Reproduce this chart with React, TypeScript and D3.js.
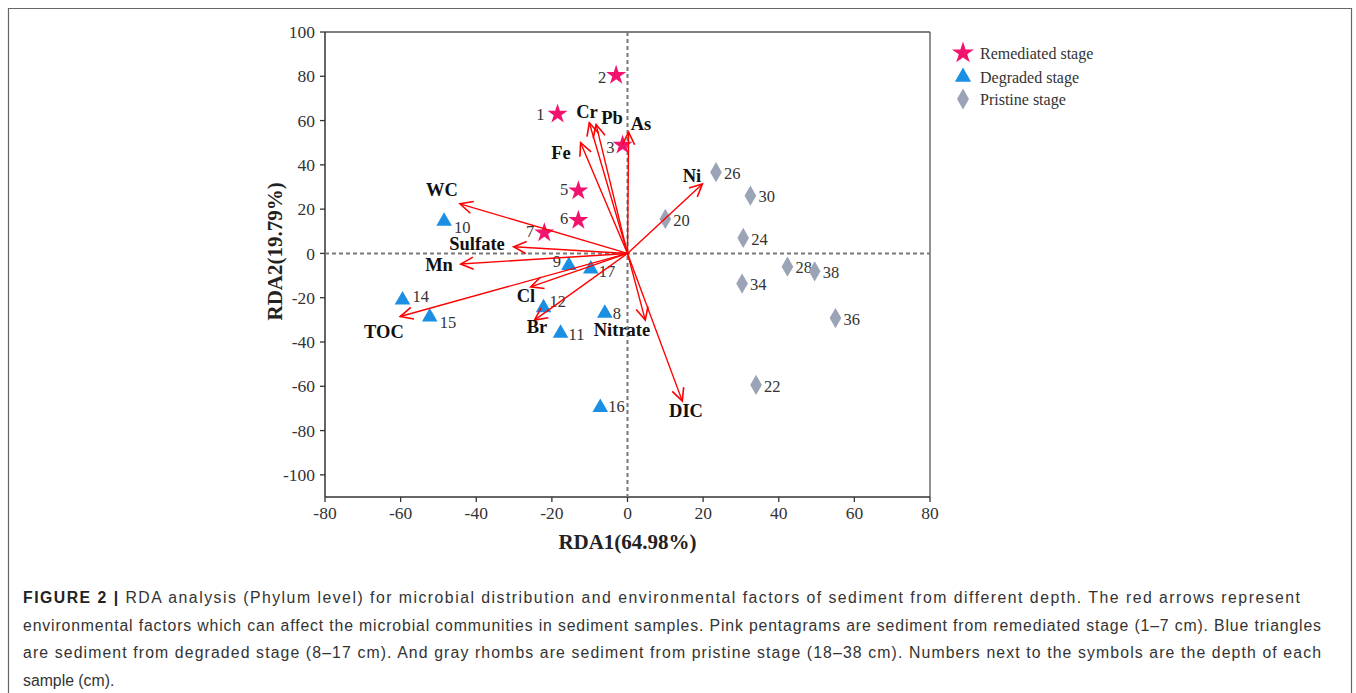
import React from 'react';
import * as d3 from 'd3';

// sample scores (RDA1, RDA2)
const remediated = [
  { id: '1', x: -18.5, y: 63 },
  { id: '2', x: -3, y: 80.5 },
  { id: '3', x: -1.3, y: 49 },
  { id: '5', x: -13, y: 28.3 },
  { id: '6', x: -13, y: 15 },
  { id: '7', x: -22, y: 9.3 },
];
const degraded = [
  { id: '8', x: -6, y: -27 },
  { id: '9', x: -15.5, y: -5.5 },
  { id: '10', x: -48.5, y: 14.5 },
  { id: '11', x: -17.7, y: -36 },
  { id: '12', x: -22.2, y: -24.5 },
  { id: '14', x: -59.5, y: -21 },
  { id: '15', x: -52.3, y: -28.7 },
  { id: '16', x: -7.2, y: -69.6 },
  { id: '17', x: -9.7, y: -7 },
];
const pristine = [
  { id: '20', x: 10, y: 15.6 },
  { id: '22', x: 34, y: -59.4 },
  { id: '24', x: 30.6, y: 7 },
  { id: '26', x: 23.4, y: 36.7 },
  { id: '28', x: 42.3, y: -6 },
  { id: '30', x: 32.5, y: 26.1 },
  { id: '34', x: 30.3, y: -13.6 },
  { id: '36', x: 55, y: -29.2 },
  { id: '38', x: 49.5, y: -8.1 },
];
// environmental factor arrows
const factors = [
  { name: 'WC', x: -44.3, y: 22.4 },
  { name: 'Sulfate', x: -30.1, y: 3 },
  { name: 'Mn', x: -44.1, y: -4.8 },
  { name: 'TOC', x: -60.1, y: -28.5 },
  { name: 'Cl', x: -25.6, y: -15.1 },
  { name: 'Br', x: -24.6, y: -30.1 },
  { name: 'Cr', x: -10.1, y: 59 },
  { name: 'Pb', x: -8.3, y: 58.2 },
  { name: 'Fe', x: -12.4, y: 50 },
  { name: 'As', x: 0.3, y: 54.8 },
  { name: 'Ni', x: 19.8, y: 31.4 },
  { name: 'Nitrate', x: 4.7, y: -30.1 },
  { name: 'DIC', x: 14.5, y: -66.7 },
];
const xTicks = [-80, -60, -40, -20, 0, 20, 40, 60, 80];
const yTicks = [100, 80, 60, 40, 20, 0, -20, -40, -60, -80, -100];
const legendItems = ['Remediated stage', 'Degraded stage', 'Pristine stage'];
const captionLines = [
  'RDA analysis (Phylum level) for microbial distribution and environmental factors of sediment from different depth. The red arrows represent',
  'environmental factors which can affect the microbial communities in sediment samples. Pink pentagrams are sediment from remediated stage (1\u20137 cm). Blue triangles',
  'are sediment from degraded stage (8\u201317 cm). And gray rhombs are sediment from pristine stage (18\u201338 cm). Numbers next to the symbols are the depth of each',
  'sample (cm).',
];
// justified caption line widths (null = natural)
const captionWidths = [1277, 1298, 1298, null];

// label placement tweaks (pixels)
const sampleLabelOffset: Record<string, [number, number, string]> = {
  '1': [-13, 0, 'end'], '2': [-10, 2, 'end'], '3': [-8, 2, 'end'], '5': [-10, -2, 'end'],
  '6': [-10, -2, 'end'], '7': [-10, -2, 'end'],
  '9': [-8, -4, 'end'], '10': [10, 6, 'start'], '14': [10, -4, 'start'], '15': [10, 5, 'start'],
  '12': [6, -6, 'start'], '8': [8, 0, 'start'], '11': [8, 1, 'start'], '16': [8, -1, 'start'], '17': [8, 2, 'start'],
};
const factorLabelPos: Record<string, [number, number]> = {
  WC: [442, 190], Sulfate: [477, 244], Mn: [439, 265], TOC: [384, 332], Cl: [526, 296], Br: [537, 327],
  Cr: [587, 112], Pb: [612, 118], Fe: [561, 153], As: [641, 124], Ni: [692, 176], Nitrate: [622, 330], DIC: [686, 411],
};

const STAR = '#f2136f';
const TRI = '#1b8fe3';
const DIA = '#9ba3b7';
const SERIF = '"Liberation Serif", "Times New Roman", serif';
const SANS = '"Liberation Sans", Arial, sans-serif';

const App = () => {
  const width = 1356;
  const height = 693;
  const x = d3.scaleLinear().domain([-80, 80]).range([325, 930]);
  const y = d3.scaleLinear().domain([-110, 100]).range([497, 32]);

  const star = d3.symbol().type(d3.symbolStar).size(125)();
  const tri = d3.symbol().type(d3.symbolTriangle).size(105)();
  const dia = d3.symbol().type(d3.symbolDiamond).size(118)();

  const arrowHead = (f: { x: number; y: number }) => {
    const x0 = x(0), y0 = y(0), x1 = x(f.x), y1 = y(f.y);
    const ang = Math.atan2(y1 - y0, x1 - x0);
    const len = 14, spread = 0.45;
    const a = [x1 - len * Math.cos(ang - spread), y1 - len * Math.sin(ang - spread)];
    const b = [x1 - len * Math.cos(ang + spread), y1 - len * Math.sin(ang + spread)];
    return `M${a[0]},${a[1]}L${x1},${y1}L${b[0]},${b[1]}`;
  };

  const sampleLabel = (d: { id: string; x: number; y: number }, def: [number, number, string]) => {
    const o = sampleLabelOffset[d.id] || def;
    return (
      <text key={'l' + d.id} x={x(d.x) + o[0]} y={y(d.y) + o[1]} dy="0.35em" textAnchor={o[2]}
        fontFamily={SERIF} fontSize={16.5} fill="#333">{d.id}</text>
    );
  };

  return (
    <svg width={width} height={height} style={{ position: 'absolute', left: 0, top: 0, background: '#fff' }}>
      {/* figure frame */}
      <path d={`M8.5,${height + 2}V8.5H1351.5V${height + 2}`} fill="none" stroke="#666" strokeWidth={1.2} />

      {/* plot box */}
      <line x1={x(-80)} x2={x(80)} y1={y(100)} y2={y(100)} stroke="#555" strokeWidth={1.3} />
      <line x1={x(80)} x2={x(80)} y1={y(100)} y2={y(-110)} stroke="#555" strokeWidth={1.3} />
      <line x1={x(-80)} x2={x(-80)} y1={y(100)} y2={y(-110)} stroke="#333" strokeWidth={1.5} />
      <line x1={x(-80)} x2={x(80)} y1={y(-110)} y2={y(-110)} stroke="#333" strokeWidth={1.5} />

      {/* dashed zero lines */}
      <line x1={x(0)} x2={x(0)} y1={y(100)} y2={y(-110)} stroke="#777" strokeWidth={2} strokeDasharray="4,3" />
      <line x1={x(-80)} x2={x(80)} y1={y(0)} y2={y(0)} stroke="#777" strokeWidth={2} strokeDasharray="4,3" />

      {/* ticks */}
      {yTicks.map((t) => (
        <g key={'y' + t}>
          <line x1={x(-80) - 5} x2={x(-80)} y1={y(t)} y2={y(t)} stroke="#333" strokeWidth={1.3} />
          <text x={x(-80) - 10} y={y(t)} dy="0.35em" textAnchor="end" fontFamily={SERIF} fontSize={17.5} fill="#333">{t}</text>
        </g>
      ))}
      {xTicks.map((t) => (
        <g key={'x' + t}>
          <line x1={x(t)} x2={x(t)} y1={y(-110)} y2={y(-110) + 5} stroke="#333" strokeWidth={1.3} />
          <text x={x(t)} y={y(-110) + 22} textAnchor="middle" fontFamily={SERIF} fontSize={17.5} fill="#333">{t}</text>
        </g>
      ))}

      {/* axis titles */}
      <text x={x(0)} y={549} textAnchor="middle" fontFamily={SERIF} fontWeight="bold" fontSize={21} fill="#222">RDA1(64.98%)</text>
      <text transform={`translate(282,${y(0) - 2}) rotate(-90)`} textAnchor="middle" fontFamily={SERIF} fontWeight="bold" fontSize={21} fill="#222">RDA2(19.79%)</text>

      {/* samples */}
      {pristine.map((d) => (
        <g key={'p' + d.id}>
          <path d={dia} transform={`translate(${x(d.x)},${y(d.y)})`} fill={DIA} />
          {sampleLabel(d, [8, 1, 'start'])}
        </g>
      ))}
      {degraded.map((d) => (
        <g key={'d' + d.id}>
          <path d={tri} transform={`translate(${x(d.x)},${y(d.y)})`} fill={TRI} />
          {sampleLabel(d, [8, 0, 'start'])}
        </g>
      ))}
      {remediated.map((d) => (
        <g key={'r' + d.id}>
          <path d={star} transform={`translate(${x(d.x)},${y(d.y)})`} fill={STAR} />
          {sampleLabel(d, [-10, 0, 'end'])}
        </g>
      ))}

      {/* factor arrows */}
      {factors.map((f) => (
        <g key={f.name}>
          <line x1={x(0)} y1={y(0)} x2={x(f.x)} y2={y(f.y)} stroke="#ff0000" strokeWidth={1.4} />
          <path d={arrowHead(f)} fill="none" stroke="#ff0000" strokeWidth={1.6} />
          <text x={factorLabelPos[f.name][0]} y={factorLabelPos[f.name][1]} dy="0.35em" textAnchor="middle"
            fontFamily={SERIF} fontWeight="bold" fontSize={18.5} fill="#111">{f.name}</text>
        </g>
      ))}

      {/* legend */}
      {legendItems.map((name, i) => {
        const ly = [53, 77, 99][i];
        const sym = [d3.symbol().type(d3.symbolStar).size(150)(), d3.symbol().type(d3.symbolTriangle).size(115)(), d3.symbol().type(d3.symbolDiamond).size(125)()][i];
        return (
          <g key={name}>
            <path d={sym} transform={`translate(963,${ly})`} fill={[STAR, TRI, DIA][i]} />
            <text x={980} y={ly} dy="0.35em" fontFamily={SERIF} fontSize={16} fill="#333">{name}</text>
          </g>
        );
      })}

      {/* caption */}
      {captionLines.map((line, i) => (
        <text key={i} x={23} y={603 + i * 27.5} fontFamily={SANS} fontSize={15.8} fill="#333"
          textLength={captionWidths[i] ?? undefined} lengthAdjust={captionWidths[i] ? 'spacing' : undefined}>
          {i === 0 && <tspan fontWeight="bold" fill="#222">FIGURE 2 | </tspan>}
          {line}
        </text>
      ))}
    </svg>
  );
};

export default App;
